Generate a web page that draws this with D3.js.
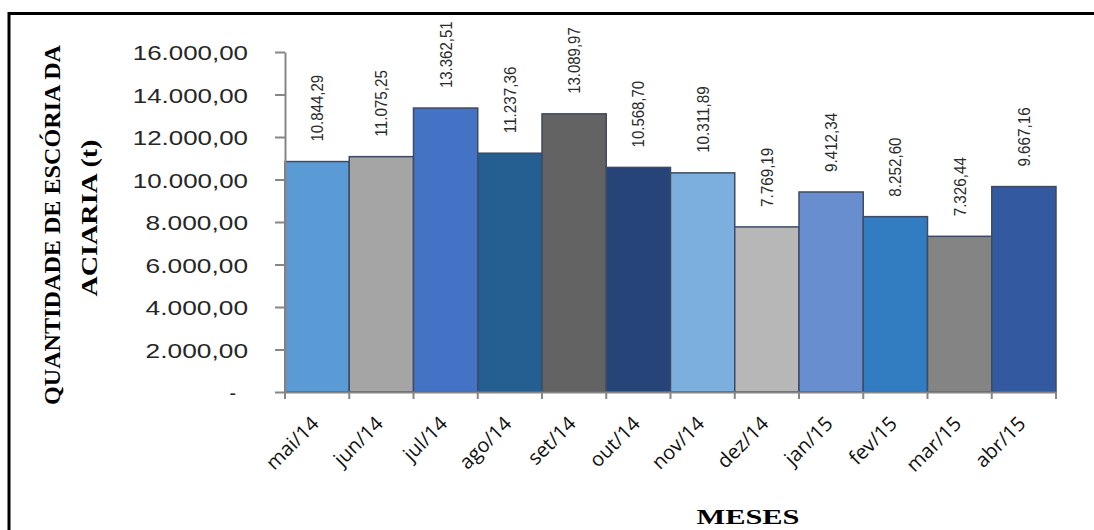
<!DOCTYPE html>
<html>
<head>
<meta charset="utf-8">
<script src="https://cdn.jsdelivr.net/npm/d3@7"></script>
<style>
  html, body { margin: 0; padding: 0; background: #fff; }
  svg { display: block; }
</style>
</head>
<body>
<svg id="chart" width="1094" height="530"></svg>
<script>
// Monthly steel-shop slag quantities (t)
const months = ["mai/14", "jun/14", "jul/14", "ago/14", "set/14", "out/14",
                "nov/14", "dez/14", "jan/15", "fev/15", "mar/15", "abr/15"];
const quantities = [10844.29, 11075.25, 13362.51, 11237.36, 13089.97, 10568.70,
                    10311.89, 7769.19, 9412.34, 8252.60, 7326.44, 9667.16];
const valueLabels = ["10.844,29", "11.075,25", "13.362,51", "11.237,36", "13.089,97", "10.568,70",
                     "10.311,89", "7.769,19", "9.412,34", "8.252,60", "7.326,44", "9.667,16"];
const yTicks = [0, 2000, 4000, 6000, 8000, 10000, 12000, 14000, 16000];
const yTickLabels = ["-", "2.000,00", "4.000,00", "6.000,00", "8.000,00",
                     "10.000,00", "12.000,00", "14.000,00", "16.000,00"];
const barColors = ["#5B9BD5", "#A5A5A5", "#4472C4", "#255E91", "#636363", "#264478",
                   "#7CAFDD", "#B7B7B7", "#698ED0", "#327DC2", "#848484", "#335AA1"];

const svg = d3.select("#chart");

// outer frame (right and bottom edges run off the page)
svg.append("rect")
  .attr("x", 9).attr("y", 13.5)
  .attr("width", 1200).attr("height", 700)
  .attr("fill", "none").attr("stroke", "#000").attr("stroke-width", 3);

const x = d3.scaleBand().domain(months).range([285, 1056]).padding(0);
const y = d3.scaleLinear().domain([0, 16000]).range([392, 52]);

// bars
svg.append("g").selectAll("rect")
  .data(months)
  .join("rect")
  .attr("x", d => x(d))
  .attr("y", (d, i) => y(quantities[i]))
  .attr("width", x.bandwidth())
  .attr("height", (d, i) => y(0) - y(quantities[i]))
  .attr("fill", (d, i) => barColors[i])
  .attr("stroke", "#3D4B63")
  .attr("stroke-width", 1.5);

// value labels, vertical, above each bar
svg.append("g").selectAll("text")
  .data(months)
  .join("text")
  .attr("transform", (d, i) =>
    `translate(${x(d) + x.bandwidth() / 2 + 6},${y(quantities[i]) - 20}) rotate(-90)`)
  .attr("text-anchor", "start")
  .attr("font-family", "'Liberation Sans Narrow', 'Liberation Sans', Arial, sans-serif")
  .attr("font-size", 17)
  .attr("fill", "#2a2a2a")
  .attr("textLength", (d, i) => valueLabels[i].length * 7.4)
  .attr("lengthAdjust", "spacingAndGlyphs")
  .text((d, i) => valueLabels[i]);

// y axis
const yAxis = d3.axisLeft(y)
  .tickValues(yTicks)
  .tickFormat((d, i) => yTickLabels[i])
  .tickSize(10)
  .tickSizeOuter(0)
  .tickPadding(27);

const gy = svg.append("g").attr("transform", "translate(285,0)").call(yAxis);
gy.select(".domain").attr("stroke", "#868686").attr("stroke-width", 2);
gy.selectAll(".tick line").attr("stroke", "#868686").attr("stroke-width", 2);
gy.selectAll(".tick text")
  .attr("font-family", "'Liberation Sans', Arial, sans-serif")
  .attr("font-size", 19.5)
  .attr("fill", "#262626")
  .attr("dy", "0.4em")
  .attr("textLength", (d, i) => yTickLabels[i].length * 12.8)
  .attr("lengthAdjust", "spacingAndGlyphs")
  .filter(d => d === 0)
  .attr("x", -49)
  .attr("textLength", null);

// x axis: baseline and category boundary ticks
const xAxis = d3.axisBottom(x).tickSize(0).tickSizeOuter(0).tickPadding(0);
const gx = svg.append("g").attr("transform", `translate(0,${y(0)})`).call(xAxis);
gx.select(".domain").attr("stroke", "#868686").attr("stroke-width", 2);
gx.selectAll(".tick line").remove();

const bounds = d3.range(months.length + 1).map(i => x.range()[0] + i * x.step());
gx.append("g").selectAll("line")
  .data(bounds)
  .join("line")
  .attr("x1", d => d).attr("x2", d => d)
  .attr("y1", 0).attr("y2", 7)
  .attr("stroke", "#868686").attr("stroke-width", 2);

gx.selectAll(".tick text")
  .attr("font-family", "'Open Sans', 'DejaVu Sans', sans-serif")
  .attr("font-size", 20)
  .attr("fill", "#111")
  .attr("text-anchor", "end")
  .attr("x", 0).attr("y", 0)
  .attr("dy", 0)
  .attr("transform", "translate(3,33) rotate(-45)");

// axis titles
const yTitle = svg.append("g")
  .attr("font-family", "'Liberation Serif', 'Times New Roman', serif")
  .attr("font-weight", "bold")
  .attr("font-size", 23)
  .attr("fill", "#000")
  .attr("text-anchor", "middle");
yTitle.append("text")
  .attr("transform", "translate(60,225) rotate(-90)")
  .attr("textLength", 360)
  .attr("lengthAdjust", "spacingAndGlyphs")
  .text("QUANTIDADE DE ESCÓRIA DA");
yTitle.append("text")
  .attr("transform", "translate(96.5,218) rotate(-90)")
  .attr("textLength", 157)
  .attr("lengthAdjust", "spacingAndGlyphs")
  .text("ACIARIA (t)");

svg.append("text")
  .attr("x", 748).attr("y", 524)
  .attr("text-anchor", "middle")
  .attr("font-family", "'Liberation Serif', 'Times New Roman', serif")
  .attr("font-weight", "bold")
  .attr("font-size", 22)
  .attr("fill", "#000")
  .attr("textLength", 103)
  .attr("lengthAdjust", "spacingAndGlyphs")
  .text("MESES");
</script>
</body>
</html>
